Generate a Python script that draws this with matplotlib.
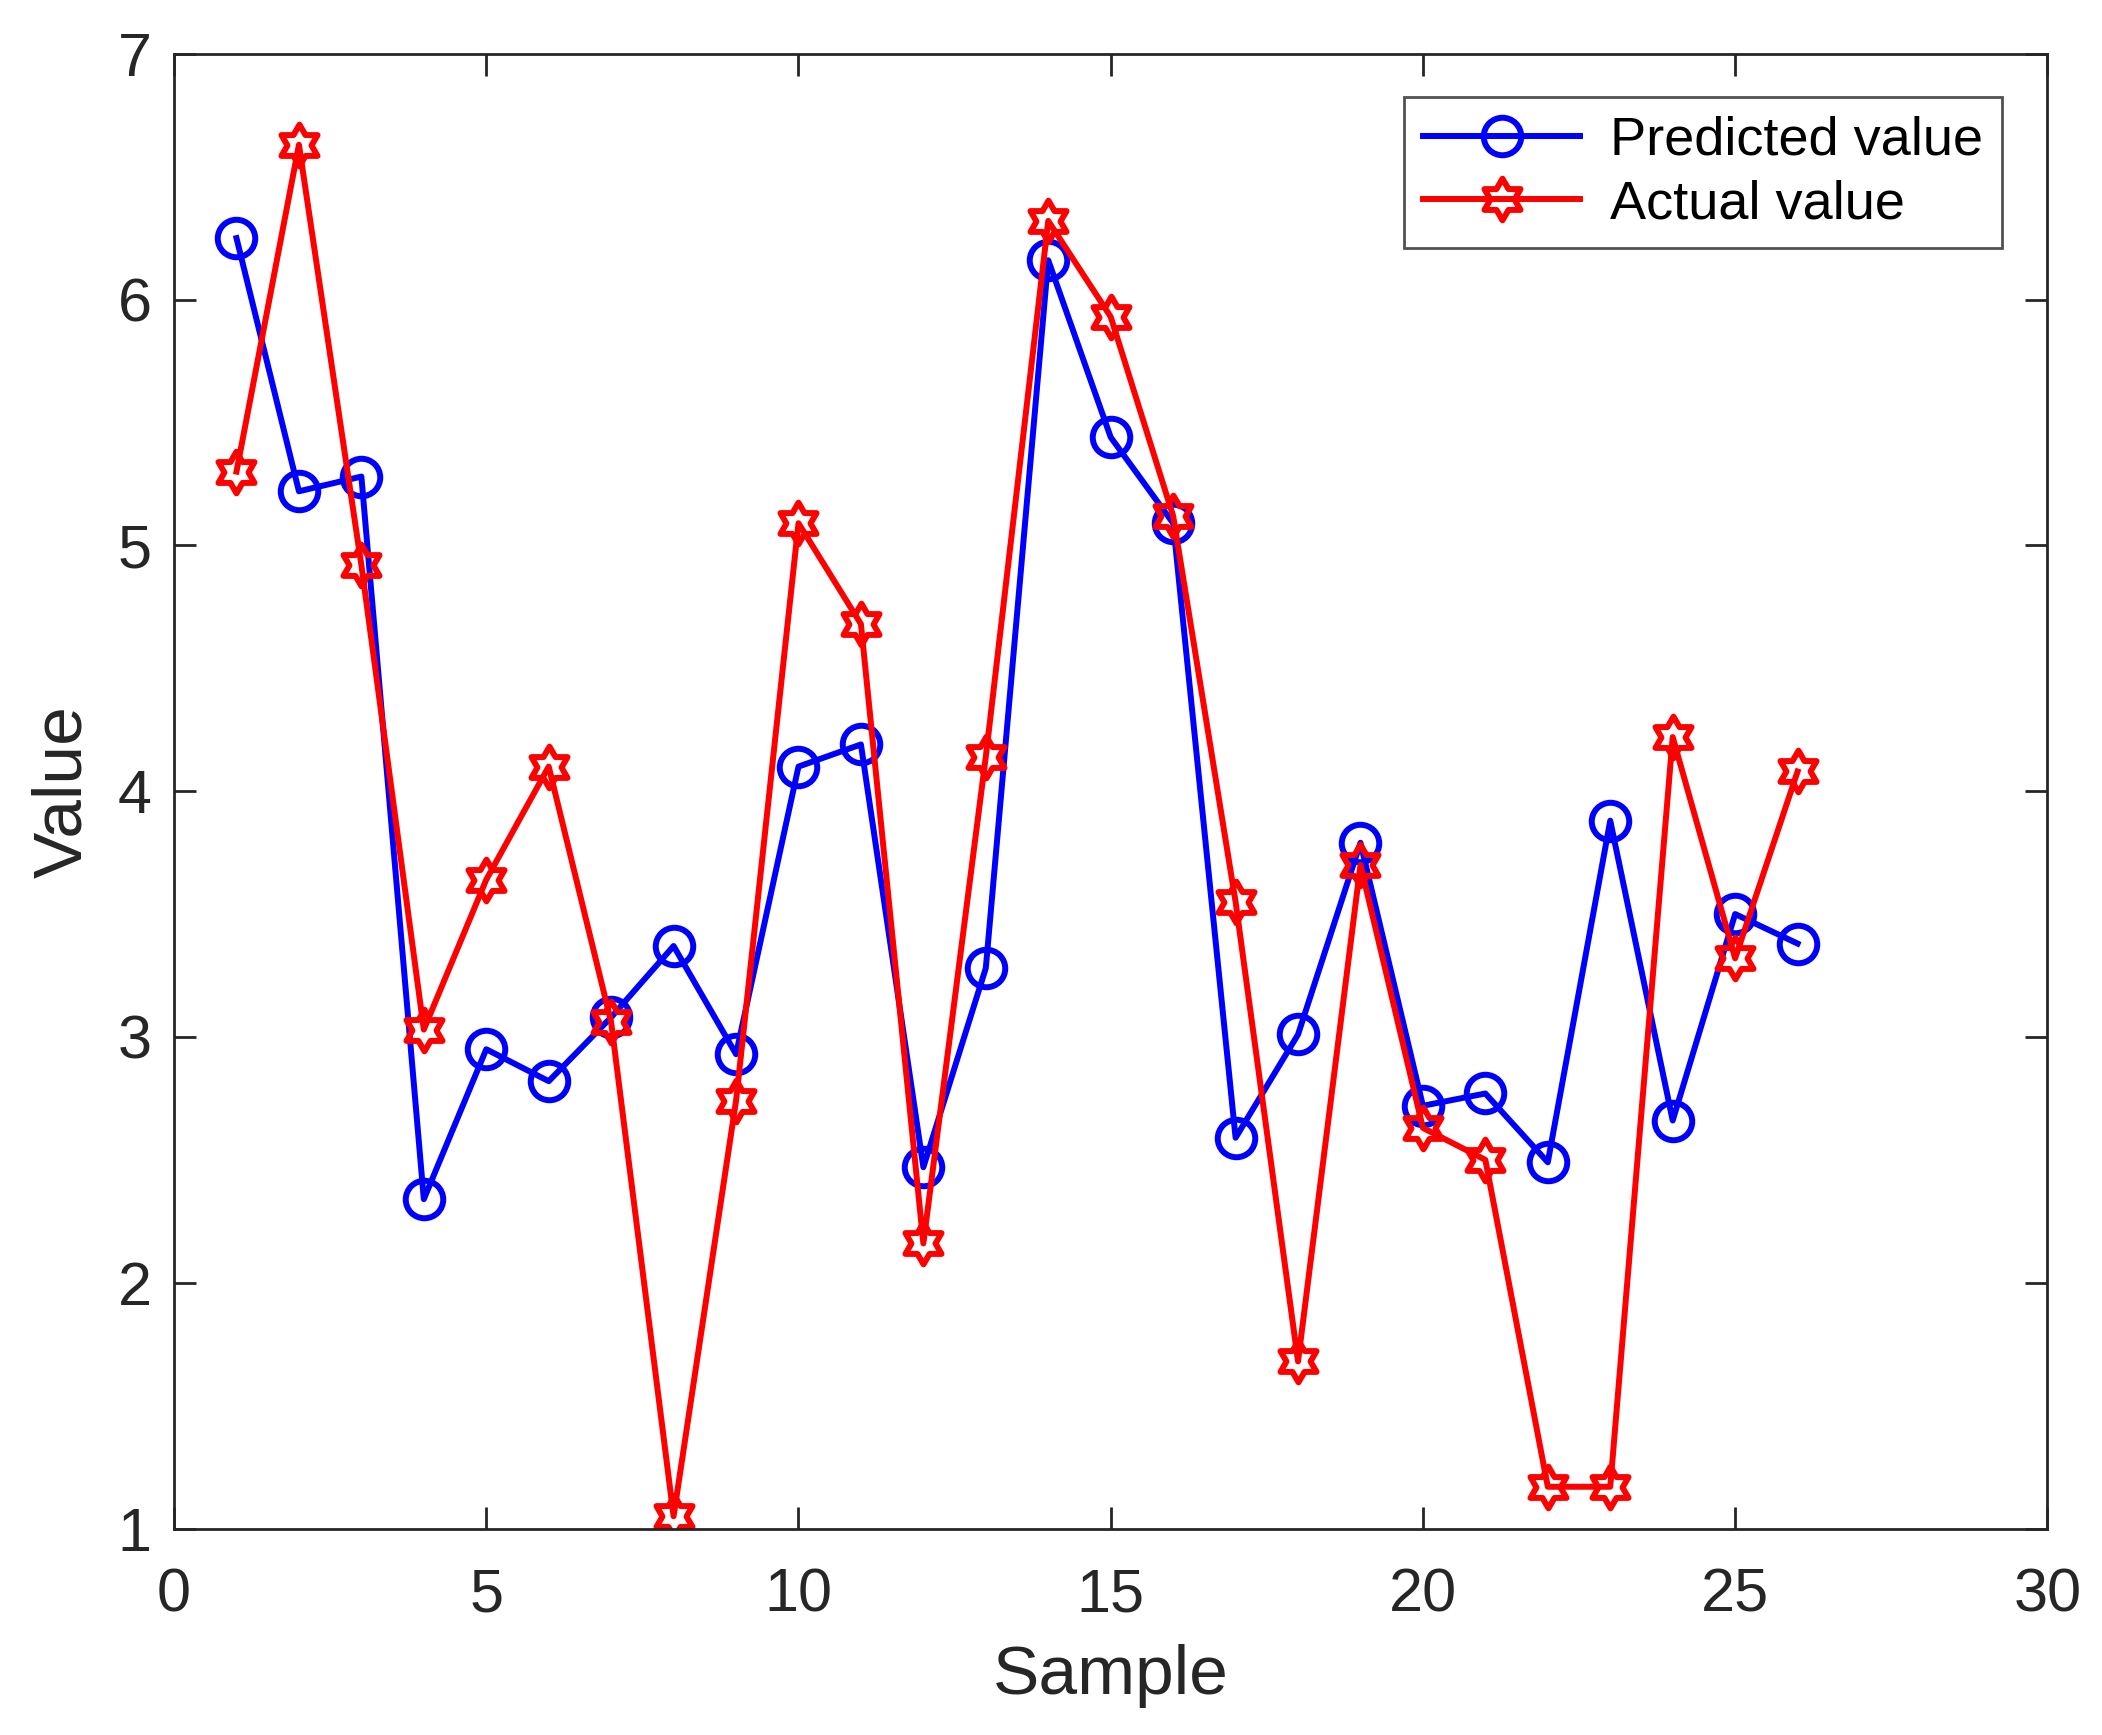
import numpy as np
import matplotlib.pyplot as plt
from matplotlib.path import Path

plt.rcParams['font.family'] = ['Liberation Sans', 'DejaVu Sans']

# data
sample = np.arange(1, 27)
predicted = [6.25, 5.22, 5.28, 2.34, 2.95, 2.82, 3.08, 3.37, 2.93, 4.10,
             4.19, 2.47, 3.28, 6.16, 5.44, 5.09, 2.59, 3.01, 3.79, 2.72,
             2.77, 2.49, 3.88, 2.66, 3.50, 3.38]
actual = [5.30, 6.63, 4.92, 3.03, 3.64, 4.10, 3.06, 1.05, 2.74, 5.09,
          4.68, 2.16, 4.14, 6.32, 5.93, 5.12, 3.55, 1.68, 3.70, 2.63,
          2.50, 1.17, 1.17, 4.22, 3.32, 4.08]

# MATLAB-style hexagram marker
ang = np.pi / 2 + np.arange(12) * np.pi / 6
rad = np.where(np.arange(12) % 2 == 0, 1.0, 1 / np.sqrt(3))
verts = np.column_stack([rad * np.cos(ang), rad * np.sin(ang)])
verts = np.vstack([verts, verts[0]])
codes = [Path.MOVETO] + [Path.LINETO] * 11 + [Path.CLOSEPOLY]
hexagram = Path(verts, codes)

fig = plt.figure(figsize=(21.02, 17.35), dpi=100)
ax = fig.add_axes([0.0828, 0.119, 0.8912, 0.850])

ax.plot(sample, predicted, color='blue', lw=4.3, marker='o', ms=27,
        mfc='none', mew=4.3, label='Predicted value')
ax.plot(sample, actual, color='red', lw=4.3, marker=hexagram, ms=30,
        mfc='none', mew=4.3, label='Actual value')

ax.set_xlim(0, 30)
ax.set_ylim(1, 7)
ax.set_xticks([0, 5, 10, 15, 20, 25, 30])
ax.set_yticks([1, 2, 3, 4, 5, 6, 7])
ax.tick_params(direction='in', length=16, width=2, labelsize=44,
               top=True, right=True, colors='#262626')
ax.tick_params(axis='x', pad=28)
ax.tick_params(axis='y', pad=16)
for sp in ax.spines.values():
    sp.set_linewidth(2)
    sp.set_color('#262626')

ax.set_xlabel('Sample', fontsize=50, color='#262626', labelpad=14)
ax.set_ylabel('Value', fontsize=50, color='#262626', labelpad=16)

leg = ax.legend(loc='upper right', fontsize=39, frameon=True, fancybox=False,
                edgecolor='#262626', handlelength=2.9, borderpad=0.35,
                labelspacing=0.25, handletextpad=0.55, borderaxespad=0,
                bbox_to_anchor=(0.9757, 0.971))
leg.get_frame().set_linewidth(2)

fig.savefig('out.png', dpi=100)
